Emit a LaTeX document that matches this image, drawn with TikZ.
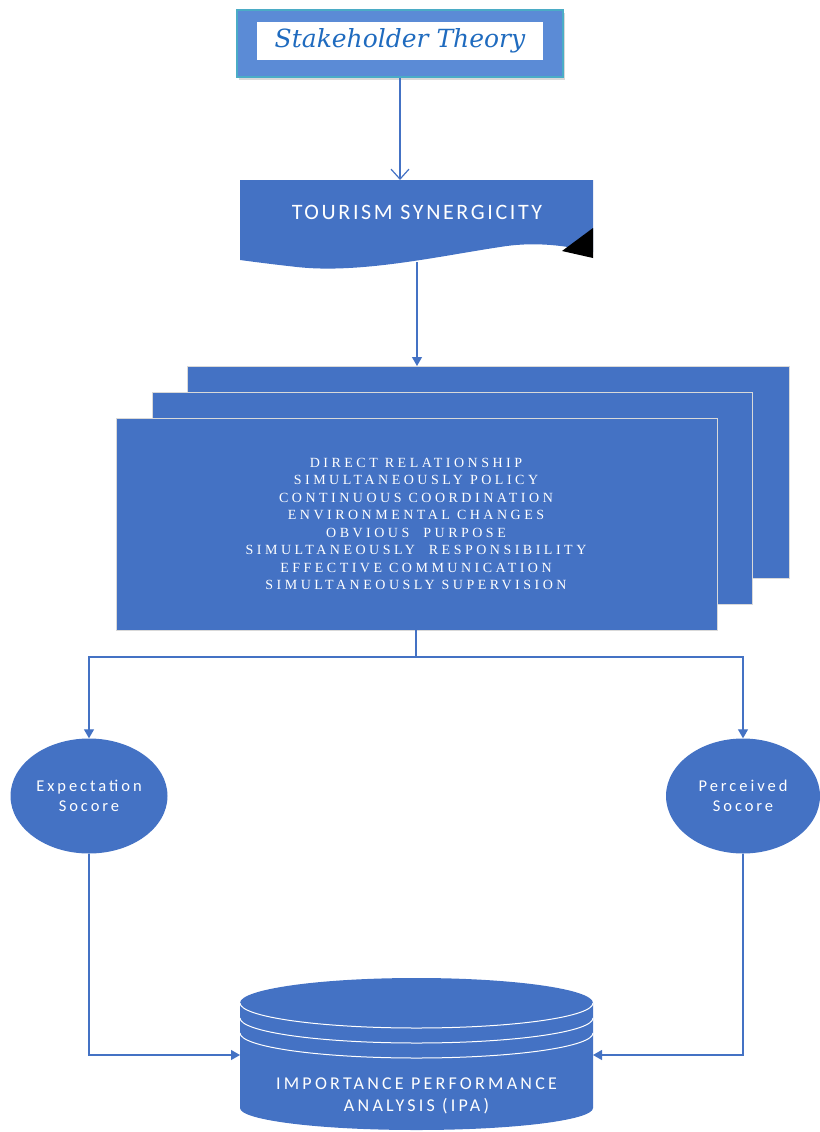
\documentclass[tikz,border=0pt]{standalone}
\usepackage{fontspec}
\setmainfont{Liberation Serif}
\newfontfamily\calib{Carlito}
\newfontfamily\dserif{DejaVu Serif}
\usetikzlibrary{arrows.meta,calc,shadows,shapes.geometric}
\definecolor{mblue}{HTML}{4472C4}
\definecolor{sblue}{HTML}{5B8BD6}
\definecolor{teal}{HTML}{4BACC6}
\definecolor{tblue}{HTML}{1F6BBF}
\tikzset{
  conn/.style={draw=mblue, line width=1.2pt},
  tipfill/.style={-{Triangle[length=9pt,width=10pt]}},
  tipopen/.style={-{Straight Barb[length=10pt,width=18pt]}},
  panel/.style={draw=gray!30, line width=1pt, fill=mblue},
  blob/.style={ellipse, fill=mblue, draw=none},
  wtxt/.style={text=white, font=\calib\fontsize{16.5}{20}\selectfont\addfontfeatures{LetterSpace=18}, align=center},
  ltxt/.style={text=white, font=\fontsize{14}{17.5}\selectfont, align=center}
}
\begin{document}
\begin{tikzpicture}[x=1pt,y=-1pt]
\useasboundingbox (0,0) rectangle (819,1132);
% Stakeholder box
\node[draw=teal, line width=1.5pt, fill=sblue, minimum width=326pt, minimum height=67pt,
      drop shadow={shadow xshift=2pt, shadow yshift=-3pt, opacity=0.3}] (stake) at (400,43.5) {};
\node[fill=white, minimum width=286pt, minimum height=38pt, text=tblue,
      font=\dserif\itshape\fontsize{25}{28}\selectfont] (staketxt) at (400,41) {Stakeholder Theory};
% Tourism synergicity document shape
\fill[mblue] (240,180) -- (593,180) -- (593,252)
   .. controls (560,244) and (530,242) .. (500,247)
   .. controls (440,256) and (360,274) .. (297,267)
   .. controls (270,264) and (255,262) .. (240,260) -- cycle;
\fill[black] (593,228) -- (593,258) -- (562,251) -- cycle;
\node[text=white, font=\calib\fontsize{22}{25}\selectfont\addfontfeatures{LetterSpace=12}] (tour) at (417,212) {TOURISM SYNERGICITY};
\coordinate (tourtop) at (400,180);
\coordinate (tourbot) at (417,262);
% stacked panels
\draw[panel] (187,366) rectangle (789,578);
\draw[panel] (152,392) rectangle (752,604);
\draw[panel] (116,418) rectangle (717,630);
\coordinate (backtop) at (417,366);
\coordinate (frontbot) at (416,630);
\node[ltxt] (list) at (416,524) {%
\addfontfeatures{LetterSpace=25}DIRECT RELATIONSHIP\\
\addfontfeatures{LetterSpace=25}SIMULTANEOUSLY POLICY\\
\addfontfeatures{LetterSpace=25}CONTINUOUS COORDINATION\\
\addfontfeatures{LetterSpace=25}ENVIRONMENTAL CHANGES\\
\addfontfeatures{LetterSpace=25}OBVIOUS \ PURPOSE\\
\addfontfeatures{LetterSpace=25}SIMULTANEOUSLY \ RESPONSIBILITY\\
\addfontfeatures{LetterSpace=25}EFFECTIVE COMMUNICATION\\
\addfontfeatures{LetterSpace=25}SIMULTANEOUSLY SUPERVISION};
% ellipses
\node[blob, minimum width=157pt, minimum height=115pt] (exp) at (89,796) {};
\node[wtxt] at (exp.center) {Expectation\\Socore};
\node[blob, minimum width=154pt, minimum height=115pt] (per) at (743,796) {};
\node[wtxt] at (per.center) {Perceived\\Socore};
% cylinder
\fill[mblue] (240,1003) -- (240,1108) arc[start angle=180, end angle=0, x radius=176.5, y radius=22]
   -- (593,1003) -- cycle;
\fill[mblue] (416.5,1003) ellipse[x radius=176.5, y radius=25];
\draw[white, line width=1pt] (240,1003) arc[start angle=180, end angle=0, x radius=176.5, y radius=25];
\draw[white, line width=1pt] (240,1018) arc[start angle=180, end angle=0, x radius=176.5, y radius=25];
\draw[white, line width=1pt] (240,1033) arc[start angle=180, end angle=0, x radius=176.5, y radius=25];
\node[wtxt, font=\calib\fontsize{18}{22}\selectfont\addfontfeatures{LetterSpace=18}] (ipa) at (416.5,1096) {IMPORTANCE PERFORMANCE\\ANALYSIS (IPA)};
\coordinate (cylL) at (240,1055);
\coordinate (cylR) at (593,1055);
% connectors
\draw[conn, tipopen] (stake.south) -- (tourtop);
\draw[conn, tipfill] (tourbot) -- (backtop);
\coordinate (split) at (416,657);
\draw[conn] (frontbot) -- (split);
\draw[conn, tipfill] (split) -| (exp.north);
\draw[conn, tipfill] (split) -| (per.north);
\draw[conn, tipfill] (exp.south) |- (cylL);
\draw[conn, tipfill] (per.south) |- (cylR);
\end{tikzpicture}
\end{document}
